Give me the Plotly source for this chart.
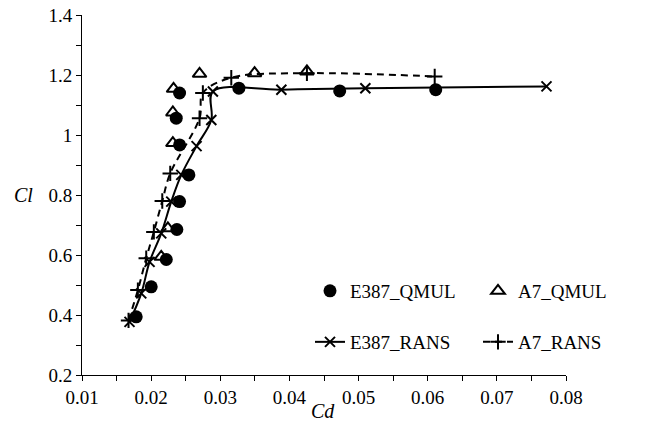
import plotly.graph_objects as go

# E387 experimental (QMUL)
e387_qmul_cd = [0.01784, 0.02001, 0.02219, 0.02372, 0.02411, 0.02546, 0.02411, 0.02363, 0.02411, 0.03269, 0.04727, 0.06116]
e387_qmul_cl = [0.394, 0.494, 0.585, 0.685, 0.778, 0.867, 0.967, 1.056, 1.140, 1.156, 1.147, 1.151]

# A7 experimental (QMUL)
a7_qmul_cd = [0.02146, 0.02242, 0.02314, 0.02314, 0.02324, 0.02700, 0.03496, 0.04253]
a7_qmul_cl = [0.594, 0.689, 0.973, 1.075, 1.154, 1.204, 1.206, 1.212]

# E387 RANS
e387_rans_cd = [0.01687, 0.01857, 0.01977, 0.02146, 0.02291, 0.02436, 0.02657, 0.02870, 0.02893, 0.03883, 0.05098, 0.07718]
e387_rans_cl = [0.377, 0.472, 0.577, 0.672, 0.778, 0.867, 0.963, 1.050, 1.145, 1.151, 1.156, 1.162]

# A7 RANS
a7_rans_cd = [0.01673, 0.01808, 0.01929, 0.02039, 0.02161, 0.02276, 0.02700, 0.02748, 0.03159, 0.04253, 0.06101]
a7_rans_cl = [0.382, 0.483, 0.589, 0.677, 0.780, 0.872, 1.056, 1.140, 1.191, 1.206, 1.195]

x_ticks = [0.01, 0.02, 0.03, 0.04, 0.05, 0.06, 0.07, 0.08]
x_tick_labels = ["0.01", "0.02", "0.03", "0.04", "0.05", "0.06", "0.07", "0.08"]
y_ticks = [0.2, 0.4, 0.6, 0.8, 1.0, 1.2, 1.4]
y_tick_labels = ["0.2", "0.4", "0.6", "0.8", "1", "1.2", "1.4"]

FONT = "Liberation Serif"
FS = 19

fig = go.Figure()

fig.add_trace(go.Scatter(
    x=e387_rans_cd, y=e387_rans_cl, mode="lines+markers", name="E387_RANS",
    line=dict(color="black", width=2, shape="spline", smoothing=1),
    marker=dict(symbol="x-thin-open", size=10, color="black", line=dict(color="black", width=2)),
    legend="legend2",
))
fig.add_trace(go.Scatter(
    x=a7_rans_cd, y=a7_rans_cl, mode="lines+markers", name="A7_RANS",
    line=dict(color="black", width=2, dash="7px,5px", shape="spline", smoothing=1),
    marker=dict(symbol="cross-thin-open", size=11, color="black", line=dict(color="black", width=2)),
    legend="legend2",
))
fig.add_trace(go.Scatter(
    x=e387_qmul_cd, y=e387_qmul_cl, mode="markers", name="E387_QMUL",
    marker=dict(symbol="circle", size=13, color="black"),
    legend="legend",
))
fig.add_trace(go.Scatter(
    x=a7_qmul_cd, y=a7_qmul_cl, mode="markers", name="A7_QMUL",
    marker=dict(symbol="triangle-up-open", size=12, color="black", line=dict(color="black", width=2)),
    legend="legend",
))

W, H = 656, 429
ML, MR, MT, MB = 82, 90, 15, 54
pw, ph = W - ML - MR, H - MT - MB

def px_x(p):
    return (p - ML) / pw

def px_y(p):
    return (H - MB - p) / ph

leg_common = dict(
    orientation="h", xanchor="left", yanchor="middle",
    font=dict(family=FONT, size=FS, color="black"),
    bgcolor="rgba(0,0,0,0)", entrywidth=123, traceorder="normal",
)

fig.update_layout(
    width=W, height=H,
    margin=dict(l=ML, r=MR, t=MT, b=MB, autoexpand=False),
    paper_bgcolor="white", plot_bgcolor="white",
    font=dict(family=FONT, size=FS, color="black"),
    legend=dict(x=px_x(310), y=px_y(291), **leg_common),
    legend2=dict(x=px_x(310), y=px_y(342), **leg_common),
    xaxis=dict(
        range=[0.01, 0.08], tickvals=x_ticks, ticktext=x_tick_labels,
        showline=True, linecolor="black", linewidth=1, mirror=False,
        ticks="outside", ticklen=5, tickcolor="black", tickwidth=1,
        minor=dict(dtick=0.005, ticks="outside", ticklen=5, tickcolor="black", tickwidth=1),
        showgrid=False, zeroline=False, automargin=False,
        tickfont=dict(family=FONT, size=FS, color="black"),
    ),
    yaxis=dict(
        range=[0.2, 1.4], tickvals=y_ticks, ticktext=y_tick_labels,
        showline=True, linecolor="black", linewidth=1, mirror=False,
        ticks="outside", ticklen=5, tickcolor="black", tickwidth=1,
        minor=dict(dtick=0.1, ticks="outside", ticklen=5, tickcolor="black", tickwidth=1),
        showgrid=False, zeroline=False, automargin=False,
        tickfont=dict(family=FONT, size=FS, color="black"),
    ),
    annotations=[
        dict(text="<i>Cl</i>", xref="paper", yref="paper", x=px_x(23), y=px_y(195),
             xanchor="center", yanchor="middle", showarrow=False,
             font=dict(family=FONT, size=20, color="black")),
        dict(text="<i>Cd</i>", xref="paper", yref="paper", x=px_x(323), y=px_y(411),
             xanchor="center", yanchor="middle", showarrow=False,
             font=dict(family=FONT, size=20, color="black")),
    ],
)

fig.write_html("out.html", config={"displayModeBar": False},
               post_script="document.body.style.margin='0px';")
